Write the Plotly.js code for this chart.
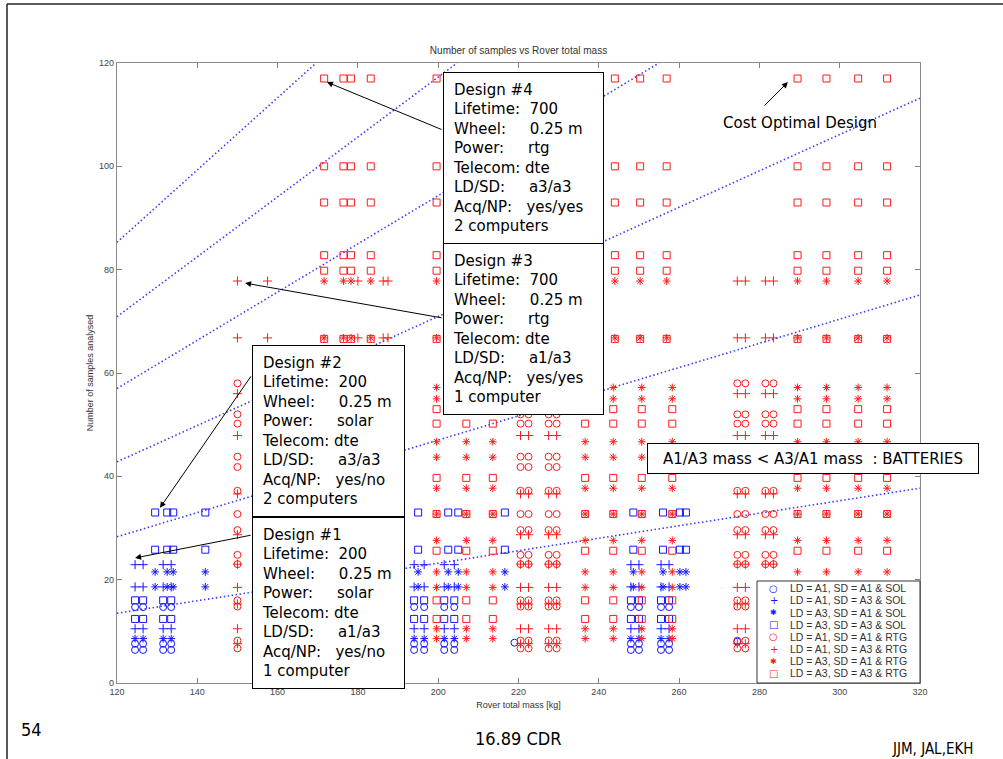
<!DOCTYPE html>
<html><head><meta charset="utf-8">
<script src="https://cdn.plot.ly/plotly-3.0.1.min.js"></script>
<style>html,body{margin:0;padding:0;background:#fff}#chart{width:1003px;height:759px}</style>
</head><body><div id="chart"></div>
<script>
// ---------------- values ----------------
// SOL (blue) designs: x = rover mass [kg], y = number of samples
const solLowCols  = [124.5, 126.5, 131.5, 133.5, 194, 196.5, 201.5, 204, 248, 250, 255.5, 257.5];
const solHighCols = [129.5, 132.5, 134, 142, 195, 202.5, 205, 216.6, 248.6, 256, 260.2, 261.7];
const solA1A1Levels = [14.7, 7.6, 6.4];
const solA1A1ExtraX = [219, 274.5];
const solA1A1ExtraY = [7.8, 8];
const solA1A3Levels = [22.9, 18.6, 10.5];
const solA3A1LowLevels = [8.6];
const solA3A1HighLevels = [21.5, 18.6];
const solA3A3LowLevels = [16, 12.4];
const solA3A3HighLevels = [33, 25.8];

// RTG (red) designs
const rtgPairCols = [150, 220.5, 222.5, 227.5, 229.5, 274.5, 276.5, 281.5, 283.5];
const rtgA1A1Levels = [58, 52, 50.2, 43.8, 41.8, 37.2, 32.7, 29.6, 24.8, 23, 16, 14.8, 8.2, 6.7];
const rtgA1A3LowLevels = [56, 47.9, 36.6, 28.7, 23, 18.5, 15.3, 10.5, 7.6];
const rtgPlusTopCols = [150, 157.5, 180, 186.3, 187.5, 220.5, 222.5, 227.5, 229.5, 274.5, 276.5, 281.5, 283.5];
const rtgPlusTopLevels = [77.8, 66.8];
const rtgTopCols = [171.6, 176.4, 178.3, 183.2, 199.6, 244, 250.3, 256.9, 289.5, 296.7, 304.6, 311.8];
const rtgLowCols = [199.6, 207, 213.6, 236.6, 243.6, 250.7, 258.3, 289.5, 296.7, 304.6, 311.8];
const rtgA3A1TopLevels = [77.8, 66.8];
const rtgA3A1LowLevels = [57.2, 55, 46.7, 43.7, 37.7, 32.7, 27.6, 21.5, 18.5, 10.5, 8.6];
const rtgA3A3TopLevels = [117, 100, 93, 82.8, 79.8, 66.6];
const rtgA3A3LowLevels = [53, 50.2, 39.7, 32.7, 25.6, 16, 12.4];

// dotted iso-lines (end points)
const isoX0 = [120, 120, 120, 120, 120, 120];
const isoY0 = [85.3, 70.9, 57.0, 42.8, 28.3, 13.5];
const isoX1 = [169.6, 204.7, 255.0, 320, 320, 320];
const isoY1 = [120, 120, 120, 113.2, 75.1, 37.7];

const seriesNames = [
  'LD = A1, SD = A1 & SOL', 'LD = A1, SD = A3 & SOL', 'LD = A3, SD = A1 & SOL', 'LD = A3, SD = A3 & SOL',
  'LD = A1, SD = A1 & RTG', 'LD = A1, SD = A3 & RTG', 'LD = A3, SD = A1 & RTG', 'LD = A3, SD = A3 & RTG'
];
const xTicks = [120, 140, 160, 180, 200, 220, 240, 260, 280, 300, 320];
const yTicks = [0, 20, 40, 60, 80, 100, 120];

// ---------------- build ----------------
function grid(cols, levels) { const x = [], y = []; cols.forEach(c => levels.forEach(l => { x.push(c); y.push(l); })); return {x, y}; }
function join(...p) { return {x: p.flatMap(q => q.x), y: p.flatMap(q => q.y)}; }

const BLUE = '#1414ff', RED = '#ff1a1a';
const pts = [
  join(grid(solLowCols, solA1A1Levels), {x: solA1A1ExtraX, y: solA1A1ExtraY}),
  grid(solLowCols, solA1A3Levels),
  join(grid(solLowCols, solA3A1LowLevels), grid(solHighCols, solA3A1HighLevels)),
  join(grid(solLowCols, solA3A3LowLevels), grid(solHighCols, solA3A3HighLevels)),
  grid(rtgPairCols, rtgA1A1Levels),
  join(grid(rtgPairCols, rtgA1A3LowLevels), grid(rtgPlusTopCols, rtgPlusTopLevels)),
  join(grid(rtgTopCols, rtgA3A1TopLevels), grid(rtgLowCols, rtgA3A1LowLevels)),
  join(grid(rtgTopCols, rtgA3A3TopLevels), grid(rtgLowCols, rtgA3A3LowLevels))
];
const symbols = ['circle-open', 'cross-thin-open', 'asterisk-open', 'square-open'];
const sizes = [7, 6.5, 6.5, 7];
const traces = [];
for (let i = 0; i < isoX0.length; i++) {
  traces.push({x: [isoX0[i], isoX1[i]], y: [isoY0[i], isoY1[i]], mode: 'lines', showlegend: false, hoverinfo: 'skip',
    line: {color: '#3a3aff', width: 1.6, dash: '1.5px,2.5px'}});
}
pts.forEach((p, i) => {
  const col = i < 4 ? BLUE : RED;
  traces.push({x: p.x, y: p.y, name: seriesNames[i], mode: 'markers', type: 'scatter', showlegend: false,
    marker: {symbol: symbols[i % 4], size: sizes[i % 4], color: col, line: {color: col, width: 1}}});
});

// pixel helpers for paper placement (plot area: left 117, top 63, 803 x 620)
const PX = px => (px - 117) / 803, PY = py => (683 - py) / 620;
const nb = s => s.replace(/ /g, '\u00a0');
const boxFont = {family: 'DejaVu Sans, Verdana, sans-serif', size: 15, color: '#000'};
function box(lines, left, top, w, h) {
  return {xref: 'paper', yref: 'paper', x: PX(left), y: PY(top), xanchor: 'left', yanchor: 'top',
    text: lines.map(nb).join('<br>'), showarrow: false, align: 'left', valign: 'middle',
    width: w, height: h, bgcolor: '#fff', bordercolor: '#000', borderwidth: 1, borderpad: 9, font: boxFont};
}
function arrow(x, y, ax, ay) {
  return {x, y, xref: 'x', yref: 'y', text: '', showarrow: true, ax, ay, arrowhead: 2, arrowsize: 1.2,
    arrowwidth: 1, arrowcolor: '#000'};
}
const d4 = ['Design #4', 'Lifetime:  700', 'Wheel:     0.25 m', 'Power:     rtg', 'Telecom: dte', 'LD/SD:     a3/a3', 'Acq/NP:   yes/yes', '2 computers'];
const d3 = ['Design #3', 'Lifetime:  700', 'Wheel:     0.25 m', 'Power:     rtg', 'Telecom: dte', 'LD/SD:     a1/a3', 'Acq/NP:   yes/yes', '1 computer'];
const d2 = ['Design #2', 'Lifetime:  200', 'Wheel:     0.25 m', 'Power:     solar', 'Telecom: dte', 'LD/SD:     a3/a3', 'Acq/NP:   yes/no', '2 computers'];
const d1 = ['Design #1', 'Lifetime:  200', 'Wheel:     0.25 m', 'Power:     solar', 'Telecom: dte', 'LD/SD:     a1/a3', 'Acq/NP:   yes/no', '1 computer'];

const legGlyph = ['\u25CB', '+', '\u2731', '\u25A1', '\u25CB', '+', '\u2731', '\u25A1'];
const narrow = 'Liberation Sans Narrow, Arial Narrow, DejaVu Sans Condensed, sans-serif';
const annotations = [
  arrow(172.3, 116.3, 116, 48),
  arrow(151.9, 77.4, 198, 35),
  arrow(130.7, 33.9, 92, -133),
  arrow(124.5, 24.2, 117, -23),
  arrow(287.1, 116.3, -25, 25),
  box(d4, 443, 72, 141, 152),
  box(d3, 443, 243, 141, 152),
  box(d2, 252, 345, 133, 152),
  box(d1, 252, 517, 133, 152),
  {xref: 'paper', yref: 'paper', x: PX(647), y: PY(443), xanchor: 'left', yanchor: 'top',
    text: 'A1/A3 mass &lt; A3/A1 mass\u00a0\u00a0: BATTERIES', showarrow: false, align: 'center', valign: 'middle',
    width: 320, height: 19, bgcolor: '#fff', bordercolor: '#000', borderwidth: 1, borderpad: 5, font: boxFont},
  {xref: 'paper', yref: 'paper', x: PX(800), y: PY(123), xanchor: 'center', yanchor: 'middle',
    text: 'Cost Optimal Design', showarrow: false, font: boxFont},
  {xref: 'paper', yref: 'paper', x: PX(31), y: PY(729), xanchor: 'center', yanchor: 'middle', text: '54', showarrow: false,
    font: {family: narrow, size: 18, color: '#000'}},
  {xref: 'paper', yref: 'paper', x: PX(518), y: PY(738), xanchor: 'center', yanchor: 'middle', text: '16.89 CDR', showarrow: false,
    font: {family: narrow, size: 18, color: '#000'}},
  {xref: 'paper', yref: 'paper', x: PX(975), y: PY(749), xanchor: 'right', yanchor: 'middle', text: 'JJM, JAL,EKH', showarrow: false,
    font: {family: narrow, size: 15, color: '#000'}}
];
seriesNames.forEach((n, i) => {
  const rowY = PY(588.3 + i * 12.15);
  annotations.push({xref: 'paper', yref: 'paper', x: PX(773.5), y: rowY, xanchor: 'center', yanchor: 'middle',
    text: legGlyph[i], showarrow: false,
    font: {family: 'DejaVu Sans, sans-serif', size: i % 4 === 2 ? 8 : 10, color: i < 4 ? BLUE : RED}});
  annotations.push({xref: 'paper', yref: 'paper', x: PX(789), y: rowY, xanchor: 'left', yanchor: 'middle',
    text: n, showarrow: false, borderpad: 0,
    font: {family: 'Liberation Sans, Arial, sans-serif', size: 10.5, color: '#333'}});
});

const labelFont = {family: 'Liberation Sans, Arial, sans-serif', size: 9, color: '#333'};
const axisCommon = {showgrid: false, zeroline: false, ticks: 'inside', ticklen: 5, tickwidth: 1, tickcolor: '#808080',
  showline: true, linecolor: '#8a8a8a', linewidth: 1.2, mirror: 'ticks',
  tickfont: {family: 'Liberation Sans, Arial, sans-serif', size: 9, color: '#444'}};

const layout = {
  width: 1003, height: 759,
  margin: {l: 117, r: 83, t: 63, b: 76, autoexpand: false},
  paper_bgcolor: '#fff', plot_bgcolor: '#fff',
  showlegend: false,
  title: {text: 'Number of samples vs Rover total mass', xref: 'paper', x: 0.5, xanchor: 'center',
    yref: 'container', y: 1 - 50 / 759, yanchor: 'middle',
    font: {family: 'Liberation Sans, Arial, sans-serif', size: 10, color: '#333'}},
  xaxis: Object.assign({}, axisCommon, {range: [120, 320], tickvals: xTicks, ticktext: xTicks.map(String),
    title: {text: 'Rover total mass [kg]', standoff: 5, font: labelFont}}),
  yaxis: Object.assign({}, axisCommon, {range: [0, 120], tickvals: yTicks, ticktext: yTicks.map(String),
    title: {text: 'Number of samples analysed', standoff: 3, font: labelFont}}),
  shapes: [
    {type: 'rect', xref: 'paper', yref: 'paper', x0: PX(757), x1: 1, y0: 0, y1: PY(581),
      fillcolor: '#fff', line: {color: '#333', width: 1}, layer: 'above'},
    {type: 'line', xref: 'paper', yref: 'paper', x0: PX(7), x1: PX(1003), y0: PY(4), y1: PY(4), line: {color: '#222', width: 1.5}},
    {type: 'line', xref: 'paper', yref: 'paper', x0: PX(7), x1: PX(7), y0: PY(4), y1: PY(759), line: {color: '#222', width: 1.5}}
  ],
  annotations
};
Plotly.newPlot('chart', traces, layout, {displayModeBar: false, staticPlot: true});
</script></body></html>
